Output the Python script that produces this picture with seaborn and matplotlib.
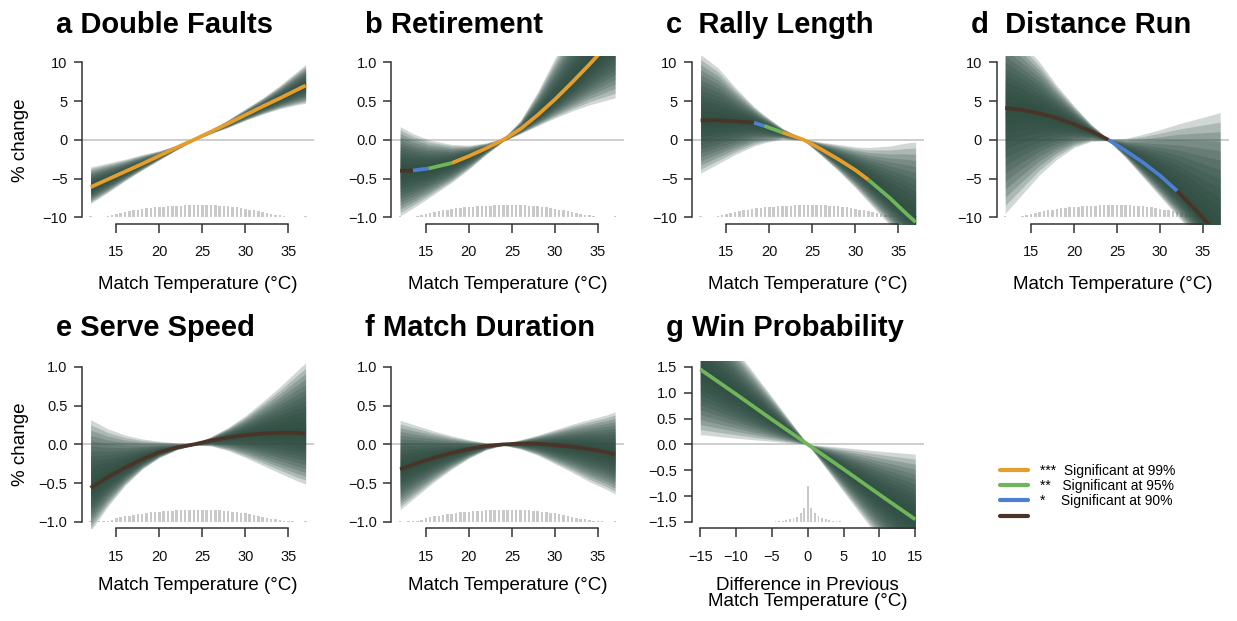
import numpy as np
import seaborn as sns
import matplotlib.pyplot as plt
from matplotlib.lines import Line2D
from matplotlib.ticker import FuncFormatter

# significance colours: 3 = 99%, 2 = 95%, 1 = 90%, 0 = not significant
sig_colors = {3: '#E59E2C', 2: '#6FB55A', 1: '#4B7FD1', 0: '#4A3427'}
fan_color = '#2b4a3f'

# shared temperature grid (deg C)
temp = [12, 14, 16, 18, 20, 22, 24, 26, 28, 30, 32, 34, 36, 37]

# a Double Faults
a_x = temp
a_mid = [-6.1, -5.1, -4.1, -3.1, -2.05, -1.0, 0.0, 1.05, 2.1, 3.2, 4.3, 5.35, 6.45, 7.0]
a_lo = [-8.2, -6.8, -5.3, -3.9, -2.6, -1.3, -0.1, 0.8, 1.6, 2.5, 3.3, 4.0, 4.5, 4.7]
a_hi = [-3.5, -3.0, -2.5, -1.9, -1.4, -0.7, 0.1, 1.3, 2.6, 4.0, 5.4, 7.0, 8.8, 9.7]
a_sig = [3] * 13

# b Retirement
b_x = [12, 13.5, 15.3, 18, 20, 22, 24, 26, 28, 30, 32, 34, 36, 37]
b_mid = [-0.40, -0.395, -0.37, -0.30, -0.21, -0.11, 0.0, 0.14, 0.32, 0.52, 0.74, 0.97, 1.21, 1.33]
b_lo = [-0.98, -0.88, -0.75, -0.55, -0.38, -0.19, -0.02, 0.08, 0.18, 0.28, 0.37, 0.45, 0.51, 0.54]
b_hi = [0.17, 0.08, 0.0, -0.06, -0.07, -0.04, 0.02, 0.25, 0.62, 1.05, 1.45, 1.85, 2.25, 2.45]
b_sig = [0, 1, 2, 3, 3, 3, 3, 3, 3, 3, 3, 3, 3]

# c Rally Length
c_x = [12, 14, 16, 18.2, 19.4, 21.5, 24, 26, 28, 30, 31.5, 34, 36, 37]
c_mid = [2.5, 2.5, 2.4, 2.2, 1.8, 0.95, 0.0, -1.2, -2.5, -3.9, -5.15, -7.5, -9.6, -10.6]
c_lo = [-4.3, -3.1, -1.9, -0.8, -0.4, 0.1, -0.1, -2.0, -4.0, -6.2, -8.0, -11.0, -13.5, -14.5]
c_hi = [11.0, 9.3, 6.8, 4.3, 3.2, 1.5, 0.1, -0.3, -0.6, -0.9, -1.0, -0.8, -0.4, -0.3]
c_sig = [0, 0, 0, 1, 2, 3, 3, 3, 3, 3, 2, 2, 2]

# d Distance Run
d_x = temp
d_mid = [4.1, 3.85, 3.4, 2.8, 2.0, 1.1, 0.0, -1.4, -2.9, -4.6, -6.6, -8.9, -11.3, -12.5]
d_lo = [-9.5, -7.0, -4.5, -2.5, -1.0, -0.2, -0.1, -2.3, -4.8, -7.3, -9.8, -12.3, -14.8, -16.0]
d_hi = [15.0, 12.5, 10.0, 7.0, 4.4, 2.0, 0.1, 0.2, 0.7, 1.3, 2.0, 2.6, 3.2, 3.5]
d_sig = [0, 0, 0, 0, 0, 0, 1, 1, 1, 1, 0, 0, 0]

# e Serve Speed
e_x = temp
e_mid = [-0.56, -0.42, -0.30, -0.19, -0.10, -0.04, 0.0, 0.05, 0.09, 0.12, 0.14, 0.15, 0.15, 0.14]
e_lo = [-1.12, -0.80, -0.53, -0.32, -0.17, -0.07, -0.01, -0.02, -0.08, -0.17, -0.27, -0.37, -0.47, -0.51]
e_hi = [0.32, 0.20, 0.12, 0.07, 0.04, 0.02, 0.01, 0.10, 0.22, 0.37, 0.55, 0.74, 0.95, 1.05]
e_sig = [0] * 13

# f Match Duration
f_x = temp
f_mid = [-0.32, -0.24, -0.17, -0.11, -0.06, -0.02, 0.0, 0.01, 0.01, -0.01, -0.03, -0.06, -0.10, -0.13]
f_lo = [-0.84, -0.66, -0.48, -0.32, -0.18, -0.07, -0.01, -0.06, -0.14, -0.25, -0.36, -0.48, -0.58, -0.64]
f_hi = [0.31, 0.24, 0.17, 0.11, 0.06, 0.02, 0.01, 0.06, 0.12, 0.19, 0.26, 0.32, 0.38, 0.42]
f_sig = [0] * 13

# g Win Probability (difference in previous match temperature)
g_x = [-15, -10, -5, 0, 5, 10, 15]
g_mid = [1.45, 0.97, 0.48, 0.0, -0.48, -0.97, -1.45]
g_lo = [0.19, 0.12, 0.06, 0.0, -0.92, -1.83, -2.75]
g_hi = [2.75, 1.83, 0.92, 0.0, -0.06, -0.13, -0.19]
g_sig = [2] * 6

# histogram of match temperature (relative frequency, 0.5 deg bins)
temp_bins = [12.0, 12.5, 13.0, 13.5, 14.0, 14.5, 15.0, 15.5, 16.0, 16.5, 17.0, 17.5,
             18.0, 18.5, 19.0, 19.5, 20.0, 20.5, 21.0, 21.5, 22.0, 22.5, 23.0, 23.5,
             24.0, 24.5, 25.0, 25.5, 26.0, 26.5, 27.0, 27.5, 28.0, 28.5, 29.0, 29.5,
             30.0, 30.5, 31.0, 31.5, 32.0, 32.5, 33.0, 33.5, 34.0, 34.5, 35.0, 35.5,
             36.0, 36.5, 37.0]
temp_hist = [0.08, 0.03, 0.04, 0.06, 0.10, 0.18, 0.30, 0.38, 0.45, 0.52, 0.58, 0.63,
             0.68, 0.73, 0.77, 0.80, 0.83, 0.86, 0.88, 0.90, 0.93, 0.95, 0.96, 0.98,
             1.00, 0.99, 0.98, 0.98, 0.97, 0.96, 0.94, 0.92, 0.88, 0.84, 0.80, 0.74,
             0.70, 0.63, 0.56, 0.48, 0.42, 0.35, 0.28, 0.22, 0.16, 0.11, 0.07, 0.04,
             0.02, 0.02, 0.08]

# histogram of temperature differences
diff_bins = [-5.0, -4.5, -4.0, -3.5, -3.0, -2.5, -2.0, -1.5, -1.0, -0.5, 0.0,
             0.5, 1.0, 1.5, 2.0, 2.5, 3.0, 3.5, 4.0, 4.5, 5.0]
diff_hist = [0.01, 0.02, 0.03, 0.03, 0.05, 0.07, 0.10, 0.15, 0.25, 0.38, 1.00,
             0.38, 0.26, 0.16, 0.11, 0.08, 0.06, 0.04, 0.03, 0.02, 0.01]

titles = ['a Double Faults', 'b Retirement', 'c  Rally Length', 'd  Distance Run',
          'e Serve Speed', 'f Match Duration', 'g Win Probability']
legend_labels = ['***  Significant at 99%', '**   Significant at 95%',
                 '*    Significant at 90%', '']

panels = [
    dict(x=a_x, mid=a_mid, lo=a_lo, hi=a_hi, sig=a_sig, yt=[-10, -5, 0, 5, 10]),
    dict(x=b_x, mid=b_mid, lo=b_lo, hi=b_hi, sig=b_sig, yt=[-1.0, -0.5, 0.0, 0.5, 1.0]),
    dict(x=c_x, mid=c_mid, lo=c_lo, hi=c_hi, sig=c_sig, yt=[-10, -5, 0, 5, 10]),
    dict(x=d_x, mid=d_mid, lo=d_lo, hi=d_hi, sig=d_sig, yt=[-10, -5, 0, 5, 10]),
    dict(x=e_x, mid=e_mid, lo=e_lo, hi=e_hi, sig=e_sig, yt=[-1.0, -0.5, 0.0, 0.5, 1.0]),
    dict(x=f_x, mid=f_mid, lo=f_lo, hi=f_hi, sig=f_sig, yt=[-1.0, -0.5, 0.0, 0.5, 1.0]),
    dict(x=g_x, mid=g_mid, lo=g_lo, hi=g_hi, sig=g_sig, yt=[-1.5, -1.0, -0.5, 0.0, 0.5, 1.0, 1.5]),
]

sns.set_theme(style='ticks')
plt.rcParams['font.family'] = ['Liberation Sans', 'DejaVu Sans']
plt.rcParams['axes.unicode_minus'] = True
plt.rcParams['text.color'] = 'black'
plt.rcParams['axes.labelcolor'] = 'black'

W, H = 1237, 621
fig = plt.figure(figsize=(W / 100, H / 100), dpi=100)
fig.patch.set_facecolor('white')

# plot-region positions in pixels (left, top)
pos = [(82, 56), (391.5, 56), (692, 56), (996.6, 56),
       (82, 360.6), (391.5, 360.6), (691.7, 360.6)]
pw, ph = 232.2, 167.6

minus = FuncFormatter(lambda v, p: f'{v:.1f}'.replace('-', '\u2212'))
minus0 = FuncFormatter(lambda v, p: f'{v:.0f}'.replace('-', '\u2212'))

for i, p in enumerate(panels):
    left, top = pos[i]
    ax = fig.add_axes([left / W, 1 - (top + ph) / H, pw / W, ph / H])
    ax.set_facecolor('white')
    x = np.array(p['x'], dtype=float)
    mid = np.array(p['mid'])
    lo = np.array(p['lo'])
    hi = np.array(p['hi'])
    yt = p['yt']
    span = yt[-1] - yt[0]
    is_g = i == 6

    if is_g:
        xt = [-15, -10, -5, 0, 5, 10, 15]
        bins, hist, bw, hh = diff_bins, diff_hist, 0.25, 0.23 * span
    else:
        xt = [15, 20, 25, 30, 35]
        bins, hist, bw, hh = temp_bins, temp_hist, 0.3, 0.08 * span
    ax.set_xlim(x[0] - 0.04 * (x[-1] - x[0]), x[-1] + 0.04 * (x[-1] - x[0]))
    ax.set_ylim(yt[0] - 0.04 * span, yt[-1] + 0.04 * span)

    ax.axhline(0, color='#c9c9c9', lw=1.3, zorder=0)
    ax.bar(bins, np.array(hist) * hh, bottom=yt[0], width=bw, color='#c9c9c9',
           linewidth=0, zorder=1)

    # bootstrap fan drawn as nested translucent bands
    for k in np.linspace(1.0, 0.08, 13):
        ax.fill_between(x, mid + k * (lo - mid), mid + k * (hi - mid),
                        color=fan_color, alpha=0.22, linewidth=0, zorder=2)

    # central estimate, coloured by significance
    sig = p['sig']
    start = 0
    for j in range(1, len(sig) + 1):
        if j == len(sig) or sig[j] != sig[start]:
            sns.lineplot(x=x[start:j + 1], y=mid[start:j + 1], color=sig_colors[sig[start]],
                         linewidth=2.7, ax=ax, zorder=3, errorbar=None,
                         solid_capstyle='butt')
            start = j

    ax.set_xticks(xt)
    ax.set_yticks(yt)
    ax.yaxis.set_major_formatter(minus if span < 10 else minus0)
    ax.xaxis.set_major_formatter(minus0)
    sns.despine(ax=ax, trim=True)
    for s in ['left', 'bottom']:
        ax.spines[s].set_color('#333333')
        ax.spines[s].set_linewidth(1.1)
    ax.tick_params(axis='x', length=6.5, width=1.1, color='#333333', pad=9,
                   labelsize=10.5, labelcolor='#111111')
    ax.tick_params(axis='y', length=5.5, width=1.1, color='#333333', pad=5,
                   labelsize=10.5, labelcolor='#111111')
    ax.grid(False)

    ax.text(-26 / pw, 1.137 if i < 4 else 1.147, titles[i], transform=ax.transAxes,
            fontsize=21, fontweight='bold', ha='left', va='baseline', color='black')

    if is_g:
        ax.set_xlabel('Difference in Previous\nMatch Temperature (\u00b0C)', fontsize=13.5,
                      linespacing=0.95)
        ax.xaxis.set_label_coords(0.5, -0.39)
    else:
        ax.set_xlabel('Match Temperature (\u00b0C)', fontsize=13.5)
        ax.xaxis.set_label_coords(0.5, -0.365 if i < 4 else -0.34)
    ax.xaxis.label.set_va('center')
    ax.set_ylabel('')
    if i in (0, 4):
        ax.set_ylabel('% change', fontsize=13.5)
        ax.yaxis.set_label_coords(-0.263, 0.5)
        ax.yaxis.label.set_va('center')

handles = [Line2D([], [], color=sig_colors[s], lw=3) for s in [3, 2, 1, 0]]
fig.legend(handles, legend_labels, loc='upper left',
           bbox_to_anchor=(1000 / W, 1 - 463.5 / H), frameon=False, fontsize=10,
           handlelength=2.0, handletextpad=0.85, labelspacing=0.1, borderpad=0,
           borderaxespad=0)

fig.savefig('out.png', dpi=100, facecolor='white')
